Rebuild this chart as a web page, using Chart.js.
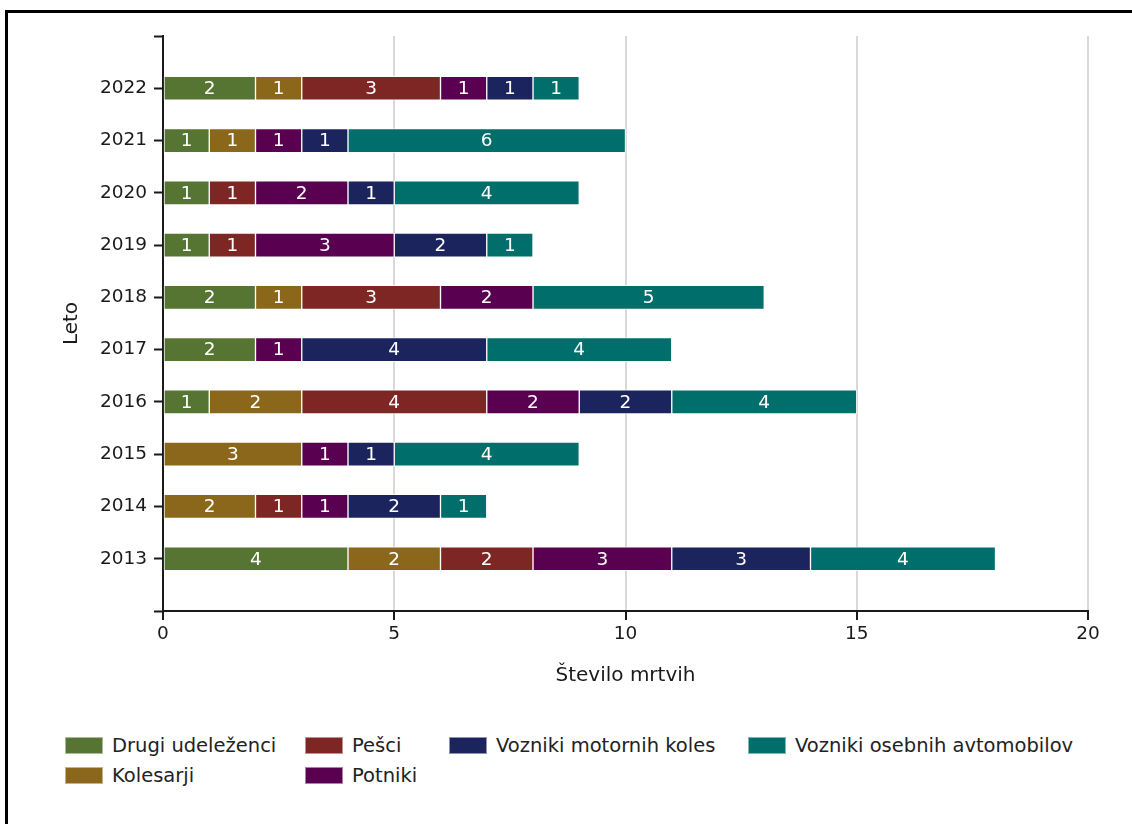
<!DOCTYPE html>
<html>
<head>
<meta charset="utf-8">
<script src="https://cdn.jsdelivr.net/npm/chart.js@4/dist/chart.umd.min.js"></script>
<style>
  body { margin: 0; background: #fff; font-family: "DejaVu Sans", sans-serif; }
  #wrap { position: relative; width: 1132px; height: 824px; overflow: hidden; }
  #frame { position: absolute; left: 5px; top: 10px; width: 1140px; height: 830px; border: 3px solid #000; box-sizing: border-box; }
  #box { position: absolute; left: 0; top: 0; width: 1132px; height: 700px; }
  .lg { position: absolute; font-size: 19.5px; color: #222; line-height: 17px; white-space: nowrap; }
  .lg i { display: inline-block; width: 36px; height: 15px; border: 1px solid rgba(255,255,255,0.5); vertical-align: top; margin-right: 9px; }
</style>
</head>
<body>
<div id="wrap">
  <div id="frame"></div>
  <div id="box"><canvas id="myChart"></canvas></div>
  <div id="legend"></div>
</div>
<script>
let years = ['2022', '2021', '2020', '2019', '2018', '2017', '2016', '2015', '2014', '2013'];
let drugi = [2, 1, 1, 1, 2, 2, 1, 0, 0, 4];
let kolesarji = [1, 1, 0, 0, 1, 0, 2, 3, 2, 2];
let pesci = [3, 0, 1, 1, 3, 0, 4, 0, 1, 2];
let potniki = [1, 1, 2, 3, 2, 1, 2, 1, 1, 3];
let motoristi = [1, 1, 1, 2, 0, 4, 2, 1, 2, 3];
let avtomobilisti = [1, 6, 4, 1, 5, 4, 4, 4, 1, 4];
let xTicks = [0, 5, 10, 15, 20];

let series = [
  { label: 'Drugi udeleženci', data: drugi, color: '#567532' },
  { label: 'Kolesarji', data: kolesarji, color: '#8b671b' },
  { label: 'Pešci', data: pesci, color: '#7e2624' },
  { label: 'Potniki', data: potniki, color: '#5a0050' },
  { label: 'Vozniki motornih koles', data: motoristi, color: '#1c245e' },
  { label: 'Vozniki osebnih avtomobilov', data: avtomobilisti, color: '#006e6a' },
];

// blank categories at both ends so the bars sit one band in from the axis ends
let labels = [''].concat(years, ['']);

let font = { family: 'DejaVu Sans', size: 18.5 };
let titleFont = { family: 'DejaVu Sans', size: 20 };

const barLabels = {
  id: 'barLabels',
  afterDatasetsDraw(chart) {
    let c = chart.ctx;
    c.save();
    c.fillStyle = '#fff';
    c.font = '18.5px "DejaVu Sans"';
    c.textAlign = 'center';
    c.textBaseline = 'middle';
    chart.data.datasets.forEach((ds, i) => {
      chart.getDatasetMeta(i).data.forEach((bar, j) => {
        let v = ds.data[j];
        if (!v) return;
        let p = bar.getProps(['x', 'y', 'base'], true);
        c.fillText(v, (p.x + p.base) / 2, p.y + 1);
      });
    });
    c.restore();
  },
};

let ctx = document.getElementById('myChart').getContext('2d');
let myChart = new Chart(ctx, {
  type: 'bar',
  data: {
    labels: labels,
    datasets: series.map((s) => ({
      label: s.label,
      data: [null].concat(s.data.map((v) => (v ? v : null)), [null]),
      backgroundColor: s.color,
      borderColor: 'rgba(255,255,255,0.75)',
      borderWidth: 1,
      borderSkipped: false,
      barThickness: 24,
    })),
  },
  plugins: [barLabels],
  options: {
    indexAxis: 'y',
    responsive: true,
    maintainAspectRatio: false,
    animation: false,
    layout: { padding: { top: 36, right: 44, left: 0, bottom: 0 } },
    scales: {
      x: {
        stacked: true,
        min: 0,
        max: 20,
        afterBuildTicks: (s) => { s.ticks = xTicks.map((v) => ({ value: v })); },
        afterFit: (s) => { s.height = 89; },
        ticks: { color: '#1a1a1a', font: font, padding: 3, maxRotation: 0 },
        grid: { color: '#d9d9d9', lineWidth: 2, tickColor: '#1a1a1a', tickLength: 9, tickWidth: 2 },
        border: { display: true, color: '#1a1a1a', width: 2 },
        title: { display: true, text: 'Število mrtvih', color: '#1a1a1a', font: titleFont, padding: { top: 0, bottom: 12 } },
      },
      y: {
        stacked: true,
        offset: false,
        afterFit: (s) => { s.width = 163; },
        ticks: { color: '#1a1a1a', font: font, padding: 7, autoSkip: false },
        grid: { offset: false, drawOnChartArea: false, color: '#1a1a1a', tickLength: 9, tickWidth: 2 },
        border: { display: true, color: '#1a1a1a', width: 2 },
        title: { display: true, text: 'Leto', color: '#1a1a1a', font: titleFont, padding: { top: 60, bottom: 0 } },
      },
    },
    plugins: {
      legend: { display: false },
      tooltip: { enabled: false },
    },
  },
});

// legend laid out in columns like the original
let legendPos = [[65, 737], [65, 767], [305, 737], [305, 767], [449, 737], [748, 737]];
document.getElementById('legend').innerHTML = series.map((s, i) =>
  '<div class="lg" style="left:' + legendPos[i][0] + 'px;top:' + legendPos[i][1] + 'px">' +
  '<i style="background:' + s.color + '"></i>' + s.label + '</div>'
).join('');
</script>
</body>
</html>
